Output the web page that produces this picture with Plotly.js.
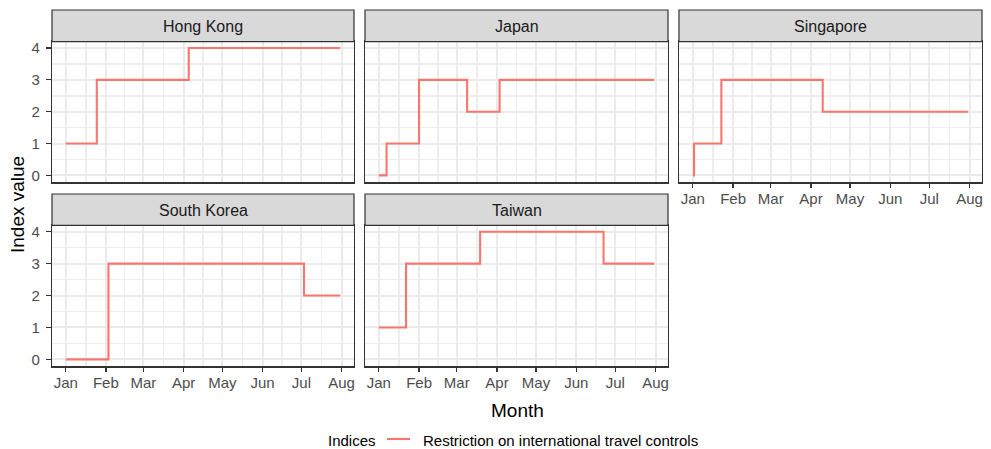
<!DOCTYPE html>
<html>
<head>
<meta charset="utf-8">
<script src="https://cdn.plot.ly/plotly-3.0.1.min.js"></script>
<style>html,body{margin:0;padding:0;background:#fff;}#chart{width:991px;height:449px;}</style>
</head>
<body>
<div id="chart"></div>
<script>
// ---- data ----
var countries = ["Hong Kong", "Japan", "Singapore", "South Korea", "Taiwan"];
var hkDates = ["2020-01-01", "2020-01-25", "2020-04-05", "2020-07-31"];
var hkValues = [1, 3, 4, 4];
var jpDates = ["2020-01-01", "2020-01-07", "2020-02-01", "2020-03-09", "2020-04-03", "2020-07-31"];
var jpValues = [0, 1, 3, 2, 3, 3];
var sgDates = ["2020-01-01", "2020-01-02", "2020-01-23", "2020-04-10", "2020-07-31"];
var sgValues = [0, 1, 3, 2, 2];
var krDates = ["2020-01-01", "2020-02-03", "2020-07-03", "2020-07-31"];
var krValues = [0, 3, 2, 2];
var twDates = ["2020-01-01", "2020-01-22", "2020-03-19", "2020-06-22", "2020-07-31"];
var twValues = [1, 3, 4, 3, 3];
var monthTicks = ["2020-01-01", "2020-02-01", "2020-03-01", "2020-04-01", "2020-05-01", "2020-06-01", "2020-07-01", "2020-08-01"];
var monthLabels = ["Jan", "Feb", "Mar", "Apr", "May", "Jun", "Jul", "Aug"];
var yTicks = [0, 1, 2, 3, 4];
var seriesName = "Restriction on international travel controls";
var legendTitle = "Indices";

var seriesDates = [hkDates, jpDates, sgDates, krDates, twDates];
var seriesValues = [hkValues, jpValues, sgValues, krValues, twValues];

// ---- layout geometry (pixels) ----
var W = 991, H = 449;
var cols = [[52, 354], [365, 668], [679, 982]];
var rows = [[41.6, 182.4], [225.3, 366.4]];
var strips = [[10, 41.6], [194, 225.3]];
var panelPos = [[0, 0], [0, 1], [0, 2], [1, 0], [1, 1]];
var showXLabels = [false, false, true, true, true];
var showYLabels = [true, false, false, true, false];

function px(x) { return x / W; }
function py(y) { return 1 - y / H; }

// mid-month minor gridlines
var minorX = [];
for (var i = 0; i < monthTicks.length - 1; i++) {
  var a = new Date(monthTicks[i] + "T00:00:00Z").getTime();
  var b = new Date(monthTicks[i + 1] + "T00:00:00Z").getTime();
  minorX.push(new Date((a + b) / 2).toISOString().replace("T", " ").replace("Z", "").slice(0, 19));
}
var minorY = [0.5, 1.5, 2.5, 3.5];

var LINE = "#F8766D";
var FONT = "Liberation Sans, Arial, sans-serif";

var traces = [];
var layout = {
  width: W, height: H,
  margin: {l: 0, r: 0, t: 0, b: 0},
  paper_bgcolor: "#ffffff",
  plot_bgcolor: "#ffffff",
  font: {family: FONT, size: 15, color: "#000000"},
  showlegend: false,
  shapes: [],
  annotations: []
};

for (var k = 0; k < countries.length; k++) {
  var r = panelPos[k][0], c = panelPos[k][1];
  var sfx = k === 0 ? "" : String(k + 1);
  traces.push({
    type: "scatter", mode: "lines",
    x: seriesDates[k], y: seriesValues[k],
    xaxis: "x" + sfx, yaxis: "y" + sfx,
    line: {color: LINE, width: 2.1, shape: "hv"},
    name: seriesName,
    showlegend: false,
    hoverinfo: "x+y"
  });
  layout["xaxis" + sfx] = {
    domain: [px(cols[c][0]), px(cols[c][1])],
    anchor: "y" + sfx,
    type: "date",
    range: ["2019-12-21 09:36", "2020-08-10 14:24"],
    tickmode: "array", tickvals: monthTicks, ticktext: monthLabels,
    showticklabels: showXLabels[k],
    ticks: showXLabels[k] ? "outside" : "",
    ticklen: 4, tickwidth: 1.3, tickcolor: "#333333",
    ticklabelstandoff: -2,
    tickfont: {size: 15, color: "#4D4D4D", family: FONT},
    showgrid: true, gridcolor: "#EBEBEB", gridwidth: 2,
    minor: {tickmode: "array", tickvals: minorX, showgrid: true, gridcolor: "#EEEEEE", gridwidth: 1.5, ticks: ""},
    showline: true, mirror: true, linecolor: "#333333", linewidth: 1.2,
    zeroline: false, fixedrange: true
  };
  layout["yaxis" + sfx] = {
    domain: [py(rows[r][1]), py(rows[r][0])],
    anchor: "x" + sfx,
    range: [-0.22, 4.2],
    tickmode: "array", tickvals: yTicks,
    showticklabels: showYLabels[k],
    ticks: showYLabels[k] ? "outside" : "",
    ticklen: 5, tickwidth: 1.3, tickcolor: "#333333",
    ticklabelstandoff: 3,
    tickfont: {size: 15, color: "#4D4D4D", family: FONT},
    showgrid: true, gridcolor: "#EBEBEB", gridwidth: 2,
    minor: {tickmode: "array", tickvals: minorY, showgrid: true, gridcolor: "#EEEEEE", gridwidth: 1.5, ticks: ""},
    showline: true, mirror: true, linecolor: "#333333", linewidth: 1.2,
    zeroline: false, fixedrange: true
  };
  // strip
  layout.shapes.push({
    type: "rect", xref: "paper", yref: "paper",
    x0: px(cols[c][0]), x1: px(cols[c][1]),
    y0: py(strips[r][1]), y1: py(strips[r][0]),
    fillcolor: "#D9D9D9", line: {color: "#333333", width: 1.2}
  });
  layout.annotations.push({
    xref: "paper", yref: "paper",
    x: px((cols[c][0] + cols[c][1]) / 2), y: py((strips[r][0] + strips[r][1]) / 2 + 1),
    xanchor: "center", yanchor: "middle",
    text: countries[k], showarrow: false,
    font: {size: 16, color: "#1A1A1A", family: FONT}
  });
}

// axis titles
layout.annotations.push({
  xref: "paper", yref: "paper",
  x: px(17), y: py(205), xanchor: "center", yanchor: "middle",
  text: "Index value", textangle: -90, showarrow: false,
  font: {size: 19, color: "#000000", family: FONT}
});
layout.annotations.push({
  xref: "paper", yref: "paper",
  x: px(517), y: py(410), xanchor: "center", yanchor: "middle",
  text: "Month", showarrow: false,
  font: {size: 19, color: "#000000", family: FONT}
});

// legend (drawn as text + key line)
var legY = 440;
layout.annotations.push({
  xref: "paper", yref: "paper",
  x: px(326), y: py(legY), xanchor: "left", yanchor: "middle",
  text: legendTitle, showarrow: false,
  font: {size: 15, color: "#000000", family: FONT}
});
layout.shapes.push({
  type: "line", xref: "paper", yref: "paper",
  x0: px(387), x1: px(410), y0: py(legY - 1), y1: py(legY - 1),
  line: {color: LINE, width: 2.1}
});
layout.annotations.push({
  xref: "paper", yref: "paper",
  x: px(421), y: py(legY), xanchor: "left", yanchor: "middle",
  text: seriesName, showarrow: false,
  font: {size: 15, color: "#000000", family: FONT}
});

Plotly.newPlot("chart", traces, layout, {displayModeBar: false, staticPlot: true});
</script>
</body>
</html>
